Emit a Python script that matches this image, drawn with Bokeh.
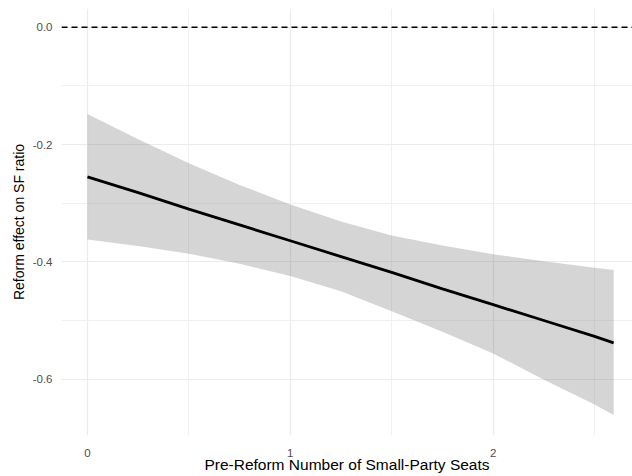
from bokeh.plotting import figure
from bokeh.models import Range1d, Span, FixedTicker, NumeralTickFormatter
from bokeh.embed import file_html
from bokeh.resources import INLINE

# Data
seats = [0, 0.25, 0.5, 0.75, 1.0, 1.25, 1.5, 1.75, 2.0, 2.25, 2.5, 2.594]
effect = [-0.255, -0.282, -0.310, -0.337, -0.364, -0.391, -0.418, -0.446, -0.473, -0.500, -0.527, -0.538]
upper = [-0.148, -0.191, -0.232, -0.269, -0.302, -0.331, -0.355, -0.372, -0.387, -0.399, -0.410, -0.414]
lower = [-0.362, -0.373, -0.386, -0.403, -0.424, -0.450, -0.484, -0.519, -0.556, -0.601, -0.643, -0.661]

x_ticks = [0, 1, 2]
x_minor = [0.5, 1.5, 2.5]
y_ticks = [-0.6, -0.4, -0.2, 0.0]
y_minor = [-0.5, -0.3, -0.1]
ref_level = 0.0

FONT = "Liberation Sans"

W, H = 632, 476
BL, BT, BR, BB = 61, 8, 0, 41
x0, x1 = -0.128, 2.687
y0, y1 = -0.696, 0.032

p = figure(width=W, height=H, output_backend="svg", toolbar_location=None,
           x_range=Range1d(x0, x1), y_range=Range1d(y0, y1),
           min_border_left=BL, min_border_right=BR, min_border_top=BT, min_border_bottom=BB)
p.outline_line_color = None
p.background_fill_color = "white"
p.border_fill_color = "white"

p.varea(x=seats, y1=lower, y2=upper, fill_color="gray", fill_alpha=0.33)
p.line(x=seats, y=effect, line_color="black", line_width=2.8)
p.add_layout(Span(location=ref_level, dimension="width", line_color="black",
                  line_dash="6 4", line_width=1.5))

p.xaxis.ticker = FixedTicker(ticks=x_ticks, minor_ticks=x_minor)
p.yaxis.ticker = FixedTicker(ticks=y_ticks, minor_ticks=y_minor)
p.xgrid.ticker = FixedTicker(ticks=x_ticks, minor_ticks=x_minor)
p.ygrid.ticker = FixedTicker(ticks=y_ticks, minor_ticks=y_minor)
p.yaxis.formatter = NumeralTickFormatter(format="0.0")

for g in (p.xgrid, p.ygrid):
    g.grid_line_color = "#ebebeb"
    g.grid_line_width = 1.2
    g.minor_grid_line_color = "#f0f0f0"
    g.minor_grid_line_width = 1.0

for ax in (p.xaxis, p.yaxis):
    ax.axis_line_color = None
    ax.major_tick_line_color = None
    ax.minor_tick_line_color = None
    ax.major_label_text_font = FONT
    ax.major_label_text_font_size = "11.5px"
    ax.major_label_text_color = "#4d4d4d"
    ax.axis_label_text_font = FONT
    ax.axis_label_text_font_style = "normal"
    ax.axis_label_text_color = "black"

p.yaxis.axis_label = "Reform effect on SF ratio"
p.yaxis.axis_label_text_font_size = "14px"
p.yaxis.major_label_standoff = 3
p.yaxis.axis_label_standoff = 3

p.xaxis.axis_label = "Pre-Reform Number of Small-Party Seats"
p.xaxis.axis_label_text_font_size = "15.5px"
p.xaxis.major_label_standoff = 7
p.xaxis.axis_label_standoff = -4

open("out.html", "w").write(file_html(p, INLINE))
